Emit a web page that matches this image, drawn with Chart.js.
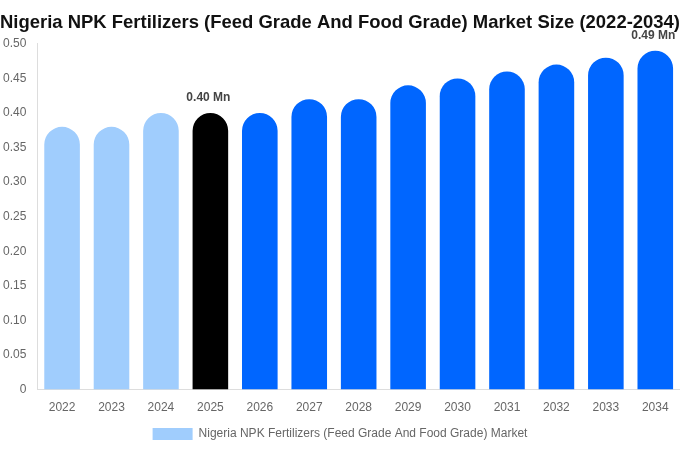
<!DOCTYPE html>
<html>
<head>
<meta charset="utf-8">
<script src="https://cdn.jsdelivr.net/npm/chart.js@4/dist/chart.umd.min.js"></script>
<style>
  html, body { margin: 0; padding: 0; background: #fff; }
  #wrap { width: 680px; height: 450px; }
</style>
</head>
<body>
<div id="wrap"><canvas id="marketChart"></canvas></div>
<script>
// ---------------- Data ----------------
const YEARS = ["2022", "2023", "2024", "2025", "2026", "2027", "2028", "2029", "2030", "2031", "2032", "2033", "2034"];
const MARKET_SIZE = [0.38, 0.38, 0.40, 0.40, 0.40, 0.42, 0.42, 0.44, 0.45, 0.46, 0.47, 0.48, 0.49];
const LABELLED_YEARS = ["2025", "2034"];
const SERIES_NAME = "Nigeria NPK Fertilizers (Feed Grade And Food Grade) Market";
const TITLE = "Nigeria NPK Fertilizers (Feed Grade And Food Grade) Market Size (2022-2034)";

// history light, base year black, forecast blue
function barColor(year) {
  const y = parseInt(year);
  if (y < 2025) return "#a0cdfd";
  if (y === 2025) return "#000000";
  return "#0066ff";
}

// ---------------- Value labels ----------------
const valueLabels = {
  id: "valueLabels",
  afterDatasetsDraw(chart) {
    const { ctx } = chart;
    const meta = chart.getDatasetMeta(0);
    ctx.save();
    ctx.font = "bold 12px 'Liberation Sans', Arial, sans-serif";
    ctx.fillStyle = "#444";
    ctx.textAlign = "center";
    ctx.textBaseline = "bottom";
    YEARS.forEach((yr, i) => {
      if (!LABELLED_YEARS.includes(yr)) return;
      const bar = meta.data[i];
      ctx.fillText(MARKET_SIZE[i].toFixed(2) + " Mn", bar.x - 2, bar.y - 9);
    });
    ctx.restore();
  }
};

// ---------------- Chart ----------------
new Chart(document.getElementById("marketChart"), {
  type: "bar",
  data: {
    labels: YEARS,
    datasets: [{
      label: SERIES_NAME,
      data: MARKET_SIZE,
      backgroundColor: YEARS.map(barColor),
      borderRadius: { topLeft: 30, topRight: 30 },
      borderSkipped: "bottom"
    }]
  },
  options: {
    responsive: true,
    maintainAspectRatio: false,
    animation: false,
    layout: { padding: { left: 0, right: 0, top: 0, bottom: 0 } },
    plugins: {
      title: {
        display: true,
        text: TITLE,
        color: "#111",
        font: { family: "'Liberation Sans', Arial, sans-serif", size: 19, weight: "bold" },
        padding: { top: 11, bottom: 10 }
      },
      legend: {
        position: "bottom",
        labels: {
          color: "#666",
          boxWidth: 40,
          boxHeight: 12,
          font: { family: "'Liberation Sans', Arial, sans-serif", size: 12 },
          generateLabels: () => [{
            text: SERIES_NAME,
            fillStyle: "#a0cdfd",
            strokeStyle: "#a0cdfd",
            lineWidth: 0,
            fontColor: "#666"
          }]
        }
      },
      tooltip: { enabled: false }
    },
    scales: {
      x: {
        grid: { display: false },
        border: { color: "#ddd" },
        ticks: { color: "#666", font: { family: "'Liberation Sans', Arial, sans-serif", size: 12 } }
      },
      y: {
        min: 0,
        max: 0.5,
        grid: { display: false },
        border: { color: "#ddd" },
        ticks: {
          stepSize: 0.05,
          color: "#666",
          font: { family: "'Liberation Sans', Arial, sans-serif", size: 12 },
          callback: v => (v === 0 ? "0" : v.toFixed(2))
        }
      }
    }
  },
  plugins: [valueLabels]
});
</script>
</body>
</html>
